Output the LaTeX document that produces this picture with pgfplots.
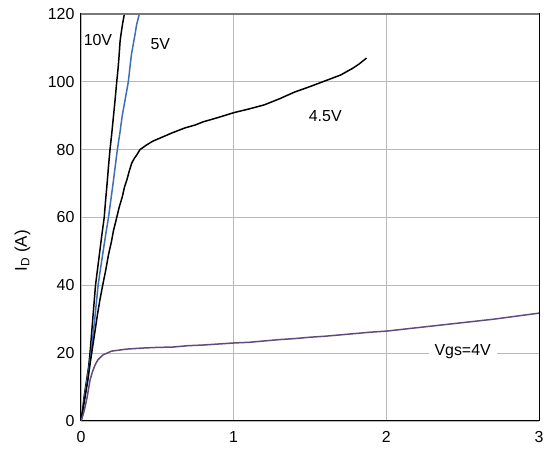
\documentclass[border=0pt]{standalone}
\usepackage{fontspec}
\setmainfont{Liberation Sans}
\usepackage{pgfplots}
\pgfplotsset{compat=1.18}
\definecolor{gridgray}{RGB}{185,185,185}
\definecolor{topgray}{RGB}{120,120,120}
\definecolor{vblue}{RGB}{62,110,180}
\definecolor{vpurple}{RGB}{96,74,128}
\begin{document}
\begin{tikzpicture}
\begin{axis}[
  name=ax,
  scale only axis,
  width=458bp, height=407bp,
  xmin=0, xmax=3, ymin=0, ymax=120,
  xtick={0,1,2,3}, ytick={0,20,40,60,80,100,120},
  grid=major,
  major grid style={gridgray, line width=0.9bp},
  major tick length=0pt,
  axis line style={black, line width=1bp},
  tick label style={font=\fontsize{16}{18}\selectfont},
  xticklabel style={yshift=-7bp},
  yticklabel style={xshift=-3bp},
  /pgf/number format/assume math mode=true,
  ylabel={I\textsubscript{D} (A)},
  ylabel style={font=\fontsize{17}{19}\selectfont, at={(rel axis cs:-0.128,0.418)}, anchor=center},
  every axis plot/.append style={line width=1.5bp},
  clip=true,
]
\addplot[black] coordinates {(0,0)(0.01,3)(0.02,7)(0.03,10)(0.04,13)(0.05,16)(0.059,20)(0.068,25)(0.077,30)(0.086,35)(0.095,40)(0.109,45)(0.123,50)(0.137,55)(0.152,60)(0.161,65)(0.171,70)(0.18,75)(0.19,80)(0.202,85)(0.213,90)(0.224,95)(0.234,100)(0.243,104)(0.25,108)(0.256,112)(0.262,114)(0.272,117)(0.288,121)};
\addplot[vblue] coordinates {(0,0)(0.01,2)(0.02,6)(0.03,9)(0.04,12)(0.05,15)(0.066,20)(0.078,25)(0.09,30)(0.101,35)(0.112,40)(0.128,45)(0.145,50)(0.162,55)(0.18,60)(0.195,65)(0.21,70)(0.224,75)(0.238,80)(0.255,85)(0.27,90)(0.29,95)(0.31,100)(0.32,104)(0.33,108)(0.354,114)(0.365,117)(0.388,121)};
\addplot[black] coordinates {(0,0)(0.015,4)(0.03,8)(0.045,12)(0.06,17)(0.07,20)(0.09,26)(0.11,32)(0.125,36)(0.142,40)(0.16,44)(0.18,49)(0.2,53)(0.212,56)(0.234,60)(0.25,63)(0.27,66)(0.285,69)(0.3,71)(0.315,73.5)(0.332,76)(0.35,77.5)(0.365,78.4)(0.386,80)(0.43,81.4)(0.47,82.5)(0.517,83.4)(0.594,84.9)(0.68,86.4)(0.75,87.3)(0.8,88.2)(0.9,89.5)(1.0,90.9)(1.1,92)(1.2,93.2)(1.3,95)(1.4,97)(1.5,98.6)(1.6,100.3)(1.7,102)(1.78,104)(1.82,105.2)(1.87,107)};
\addplot[vpurple] coordinates {(0,0)(0.015,2)(0.026,4)(0.04,7)(0.059,12)(0.075,14.5)(0.092,16.5)(0.11,18)(0.144,19.5)(0.2,20.6)(0.3,21.2)(0.4,21.5)(0.5,21.7)(0.6,21.8)(0.7,22.2)(0.8,22.4)(0.9,22.7)(1.0,23)(1.1,23.2)(1.2,23.6)(1.3,24)(1.4,24.3)(1.5,24.7)(1.6,25)(1.7,25.4)(1.8,25.8)(1.9,26.2)(2.0,26.5)(2.1,27)(2.2,27.5)(2.3,28)(2.4,28.5)(2.5,29)(2.6,29.5)(2.7,30)(2.8,30.6)(2.9,31.2)(3.0,31.8)};
\node[font=\fontsize{16}{18}\selectfont] at (axis cs:0.111,112.3) {10V};
\node[font=\fontsize{16}{18}\selectfont] at (axis cs:0.52,111) {5V};
\node[font=\fontsize{16}{18}\selectfont] at (axis cs:1.6,90) {4.5V};
\node[font=\fontsize{16}{18}\selectfont, fill=white, inner xsep=6bp, inner ysep=1bp] at (axis cs:2.5,20.3) {Vgs=4V};
\draw[topgray, line width=1.2bp] (rel axis cs:0,1) -- (rel axis cs:1,1);
\end{axis}
\pgfresetboundingbox
\path[use as bounding box] ([xshift=-81bp,yshift=-36bp]ax.south west) rectangle ([xshift=5bp,yshift=14bp]ax.north east);
\end{tikzpicture}
\end{document}
